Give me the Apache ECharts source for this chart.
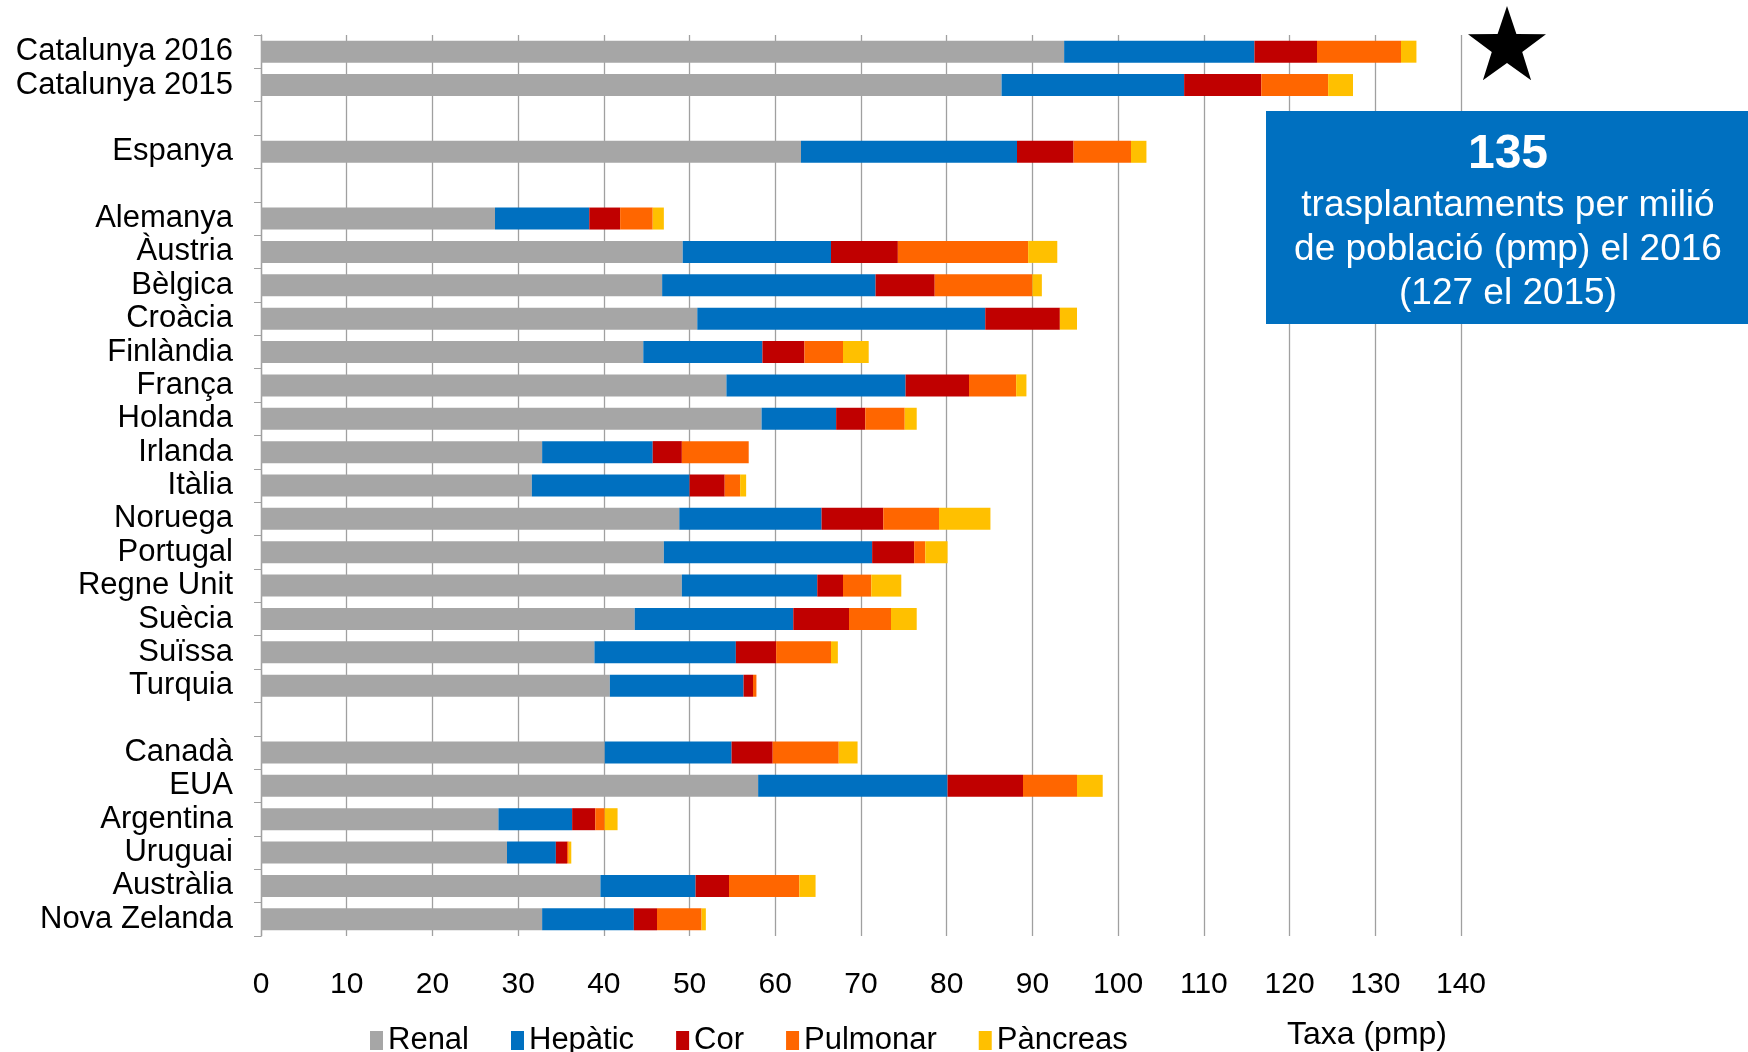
<!DOCTYPE html>
<html>
<head>
<meta charset="utf-8">
<script src="https://cdn.jsdelivr.net/npm/echarts@6/dist/echarts.min.js"></script>
<style>
html,body{margin:0;padding:0;background:#fff;}
#chart{width:1748px;height:1052px;}
</style>
</head>
<body>
<div id="chart"></div>
<script>
// Categories (blank rows are separators)
const categories = ['Catalunya 2016','Catalunya 2015',' ','Espanya','  ','Alemanya','Àustria','Bèlgica','Croàcia','Finlàndia','França','Holanda','Irlanda','Itàlia','Noruega','Portugal','Regne Unit','Suècia','Suïssa','Turquia','   ','Canadà','EUA','Argentina','Uruguai','Austràlia','Nova Zelanda'];

const renal     = [93.7, 86.4, null, 63.0, null, 27.3, 49.2, 46.8, 50.9, 44.6, 54.3, 58.4, 32.8, 31.6, 48.8, 47.0, 49.1, 43.6, 38.9, 40.7, null, 40.1, 58.0, 27.7, 28.7, 39.6, 32.8];
const hepatic   = [22.2, 21.3, null, 25.2, null, 11.0, 17.3, 24.9, 33.6, 13.9, 20.9, 8.7, 12.9, 18.4, 16.6, 24.3, 15.8, 18.5, 16.5, 15.6, null, 14.8, 22.1, 8.6, 5.7, 11.1, 10.7];
const cor       = [7.3, 9.0, null, 6.6, null, 3.6, 7.8, 6.9, 8.7, 4.9, 7.4, 3.4, 3.4, 4.1, 7.2, 4.9, 3.0, 6.5, 4.7, 1.1, null, 4.8, 8.8, 2.7, 1.3, 3.9, 2.7];
const pulmonar  = [9.8, 7.8, null, 6.7, null, 3.8, 15.2, 11.4, 0, 4.5, 5.5, 4.6, 7.8, 1.8, 6.5, 1.3, 3.3, 4.9, 6.4, 0.4, null, 7.7, 6.3, 1.1, 0.2, 8.2, 5.2];
const pancreas  = [1.8, 2.9, null, 1.8, null, 1.3, 3.4, 1.1, 2.0, 3.0, 1.2, 1.4, 0, 0.7, 6.0, 2.6, 3.5, 3.0, 0.8, 0, null, 2.2, 3.0, 1.5, 0.3, 1.9, 0.5];

const seriesNames = ['Renal','Hepàtic','Cor','Pulmonar','Pàncreas'];
const seriesValues = [renal, hepatic, cor, pulmonar, pancreas];
const colors = ['#A6A6A6','#0070C0','#C00000','#FF6600','#FFC000'];

const xTicks = [0,10,20,30,40,50,60,70,80,90,100,110,120,130,140];

const FONT = '"Liberation Sans", Arial, sans-serif';

// star decoration points
function starPoints(cx, cy, R, r) {
  const pts = [];
  for (let i = 0; i < 10; i++) {
    const rad = (i % 2 === 0) ? R : r;
    const a = -Math.PI / 2 + i * Math.PI / 5;
    pts.push([cx + rad * Math.cos(a), cy + rad * Math.sin(a)]);
  }
  return pts;
}

const chart = echarts.init(document.getElementById('chart'), null, {renderer: 'canvas'});

const option = {
  animation: false,
  backgroundColor: '#ffffff',
  color: colors,
  grid: {
    left: 261, right: 287, top: 35, bottom: 116,
    containLabel: false,
    outerBoundsMode: 'none'
  },
  legend: {
    data: seriesNames,
    left: 365,
    top: 1020,
    itemWidth: 13,
    itemHeight: 19,
    itemGap: 42,
    icon: 'rect',
    textStyle: {fontFamily: FONT, fontSize: 31, color: '#000'}
  },
  xAxis: {
    type: 'value',
    min: xTicks[0],
    max: xTicks[xTicks.length - 1],
    interval: 10,
    axisLine: {show: false},
    axisTick: {show: false},
    splitLine: {show: true, lineStyle: {color: '#a0a0a0', width: 1.3}},
    axisLabel: {
      fontFamily: FONT, fontSize: 30, color: '#000', margin: 34
    }
  },
  yAxis: {
    type: 'category',
    inverse: true,
    data: categories,
    axisLine: {show: true, lineStyle: {color: '#a0a0a0', width: 1.3}},
    axisTick: {show: true, length: 7, inside: false, lineStyle: {color: '#a0a0a0'}},
    axisLabel: {
      fontFamily: FONT, fontSize: 31, color: '#000', margin: 28, interval: 0
    }
  },
  series: seriesNames.map((name, i) => ({
    name: name,
    type: 'bar',
    stack: 'total',
    barWidth: 22,
    data: seriesValues[i],
    itemStyle: {color: colors[i]}
  })),
  graphic: [
    {
      type: 'polygon', z: 100,
      shape: {points: starPoints(1507, 47, 41, 16)},
      style: {fill: '#000'}
    },
    {
      type: 'rect', z: 100,
      shape: {x: 1266, y: 111, width: 482, height: 213},
      style: {fill: '#0070C0'}
    },
    {
      type: 'text', x: 1508, y: 155, z: 101,
      style: {text: '135', fill: '#fff', font: 'bold 48px ' + FONT, textAlign: 'center', textVerticalAlign: 'middle'}
    },
    {
      type: 'text', x: 1508, y: 206, z: 101,
      style: {text: 'trasplantaments per milió', fill: '#fff', font: '37px ' + FONT, textAlign: 'center', textVerticalAlign: 'middle'}
    },
    {
      type: 'text', x: 1508, y: 250, z: 101,
      style: {text: 'de població (pmp) el 2016', fill: '#fff', font: '37px ' + FONT, textAlign: 'center', textVerticalAlign: 'middle'}
    },
    {
      type: 'text', x: 1508, y: 294, z: 101,
      style: {text: '(127 el 2015)', fill: '#fff', font: '37px ' + FONT, textAlign: 'center', textVerticalAlign: 'middle'}
    },
    {
      type: 'text', x: 1367, y: 1035, z: 101,
      style: {text: 'Taxa (pmp)', fill: '#000', font: '32px ' + FONT, textAlign: 'center', textVerticalAlign: 'middle'}
    }
  ]
};

chart.setOption(option);
</script>
</body>
</html>
